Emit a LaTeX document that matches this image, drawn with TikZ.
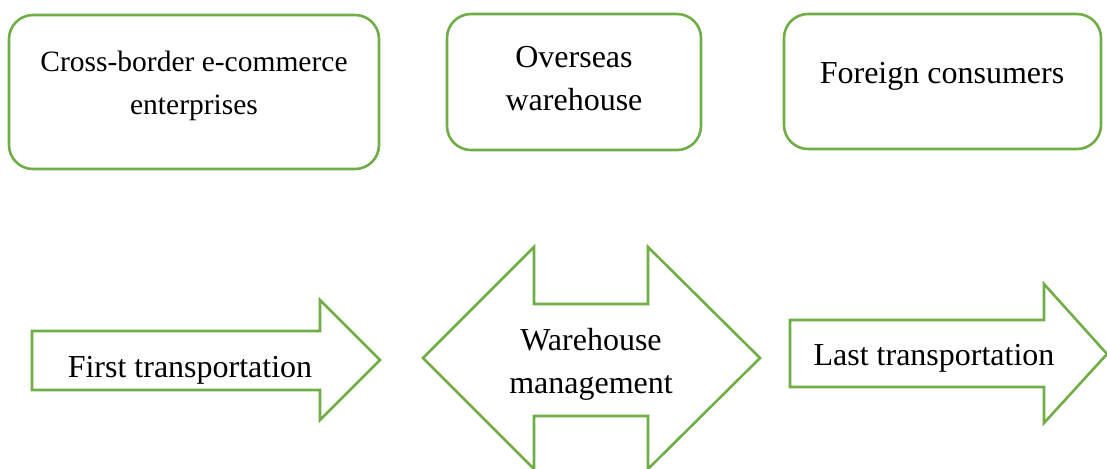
\documentclass[tikz,border=0pt]{standalone}
\usepackage{fontspec}
\setmainfont{Liberation Serif}
\usepackage{xcolor}
\usepackage{tikz}

\definecolor{leafgreen}{RGB}{112,173,71}

\begin{document}
\begin{tikzpicture}[
  x=0.5pt, y=-0.5pt,
  frame/.style={draw=leafgreen, line width=1.3pt, rounded corners=12pt},
  arrowline/.style={draw=leafgreen, line width=1.3pt, line join=miter},
  txt/.style={font=\fontsize{16}{21.5}\selectfont, align=center, inner sep=0pt}
]
\useasboundingbox (0,0) rectangle (1107,468);

% 上面三个圆角框
\draw[frame] (9,15) rectangle (379,169);
\draw[frame] (447,14) rectangle (701,150);
\draw[frame] (784,14) rectangle (1101,149);

\node[txt, font=\fontsize{14.75}{21.5}\selectfont] (firm) at (194,86)
  {Cross-border e-commerce\\ enterprises};
\node[txt] (oswh) at (574,79) {Overseas\\ warehouse};
\node[txt] (cons) at (942,76) {Foreign consumers};

% 下面的箭头
\draw[arrowline] (32,331) -- (320,331) -- (320,300) -- (380,360)
  -- (320,420) -- (320,390) -- (32,390) -- cycle;
\draw[arrowline] (423,358) -- (534,247) -- (534,304) -- (648,304)
  -- (648,247) -- (760,358) -- (648,469) -- (648,416) -- (534,416)
  -- (534,469) -- cycle;
\draw[arrowline] (790,320) -- (1044,320) -- (1044,284) -- (1107,354)
  -- (1044,423) -- (1044,387) -- (790,387) -- cycle;

\node[txt] (first) at (190,370) {First transportation};
\node[txt] (mgmt) at (591,364) {Warehouse\\ management};
\node[txt] (last) at (934,358) {Last transportation};

\end{tikzpicture}
\end{document}
